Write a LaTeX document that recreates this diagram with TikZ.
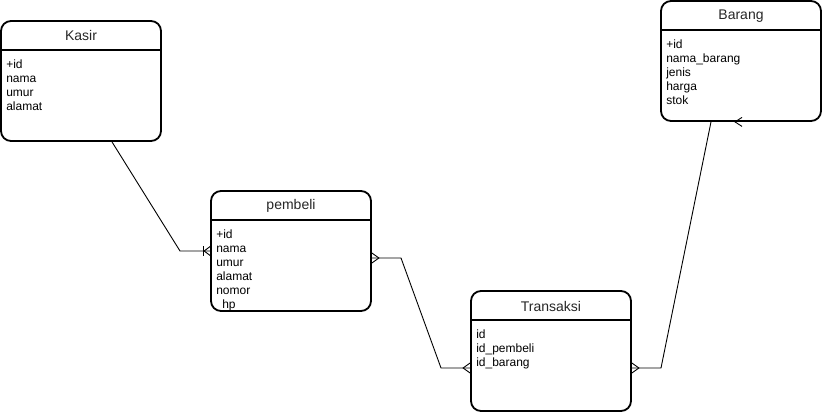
\documentclass[tikz,border=0pt]{standalone}
\usepackage{fontspec}
\setmainfont{Liberation Sans}
\usetikzlibrary{calc}
\begin{document}
\begin{tikzpicture}[x=1pt,y=-1pt,
  entity/.style={draw=black, line width=1.8pt, rounded corners=10pt, minimum width=160pt, minimum height=120pt, inner sep=0pt},
  hdr/.style={draw=black, line width=1.8pt},
  etitle/.style={font=\fontsize{14}{16}\selectfont, text=black!85, inner sep=0pt},
  attr/.style={font=\fontsize{12}{14}\selectfont, align=left, anchor=north west, inner sep=0pt, text=black},
  conn/.style={draw=black, line width=0.9pt},
  crow/.style={draw=black, line width=0.9pt}
]
\useasboundingbox (0,0) rectangle (822,412);

% Kasir
\node[entity] (kasir) at (81,81) {};
\draw[hdr] ([yshift=-30pt]kasir.north west) -- ([yshift=-30pt]kasir.north east);
\node[etitle] (kasirT) at ([yshift=-15pt]kasir.north) {Kasir};
\node[attr] (kasirA) at ([xshift=6pt,yshift=-39.5pt]kasir.north west) {+id\\nama\\umur\\alamat};

% pembeli
\node[entity] (pembeli) at (291,251) {};
\draw[hdr] ([yshift=-30pt]pembeli.north west) -- ([yshift=-30pt]pembeli.north east);
\node[etitle] (pembeliT) at ([yshift=-16pt]pembeli.north) {pembeli};
\node[attr] (pembeliA) at ([xshift=6pt,yshift=-39.5pt]pembeli.north west) {+id\\nama\\umur\\alamat\\nomor\\\hspace{6pt}hp};

% Transaksi
\node[entity] (transaksi) at (551,351) {};
\draw[hdr] ([yshift=-30pt]transaksi.north west) -- ([yshift=-30pt]transaksi.north east);
\node[etitle] (transaksiT) at ([yshift=-16pt]transaksi.north) {Transaksi};
\node[attr] (transaksiA) at ([xshift=6pt,yshift=-39.5pt]transaksi.north west) {id\\id\_pembeli\\id\_barang};

% Barang
\node[entity] (barang) at (741,61) {};
\draw[hdr] ([yshift=-30pt]barang.north west) -- ([yshift=-30pt]barang.north east);
\node[etitle] (barangT) at ([yshift=-16pt]barang.north) {Barang};
\node[attr] (barangA) at ([xshift=6pt,yshift=-39.5pt]barang.north west) {+id\\nama\_barang\\jenis\\harga\\stok};

% connector Kasir -> pembeli
\coordinate (k1) at ([xshift=31pt]kasir.south);
\coordinate (k2) at (180,251);
\draw[conn] (k1) -- (k2) -- (pembeli.west);
\draw[crow] ([xshift=-7pt,yshift=5pt]pembeli.west) -- ([xshift=-7pt,yshift=-5pt]pembeli.west);
\draw[crow] ([yshift=4.5pt]pembeli.west) -- ([xshift=-6pt]pembeli.west) -- ([yshift=-4.5pt]pembeli.west);

% connector pembeli -> Transaksi
\coordinate (p0) at ([yshift=-7pt]pembeli.east);
\coordinate (p1) at (401,258);
\coordinate (p2) at (441,368);
\coordinate (t0) at ([yshift=-17pt]transaksi.west);
\draw[conn] (p0) -- (p1) -- (p2) -- (t0);
\draw[crow] ([yshift=5pt]p0) -- ([xshift=7pt]p0) -- ([yshift=-5pt]p0);
\draw[crow] ([yshift=5pt]t0) -- ([xshift=-7pt]t0) -- ([yshift=-5pt]t0);

% connector Transaksi -> Barang
\coordinate (t1) at ([yshift=-17pt]transaksi.east);
\coordinate (b1) at (661,368);
\coordinate (b0) at ([xshift=-30pt]barang.south);
\draw[conn] (t1) -- (b1) -- (b0);
\draw[crow] ([yshift=5pt]t1) -- ([xshift=7pt]t1) -- ([yshift=-5pt]t1);
\draw[crow] ([xshift=1pt,yshift=4.5pt]barang.south) -- ([xshift=-6pt]barang.south) -- ([xshift=1pt,yshift=-4.5pt]barang.south);
\end{tikzpicture}
\end{document}
